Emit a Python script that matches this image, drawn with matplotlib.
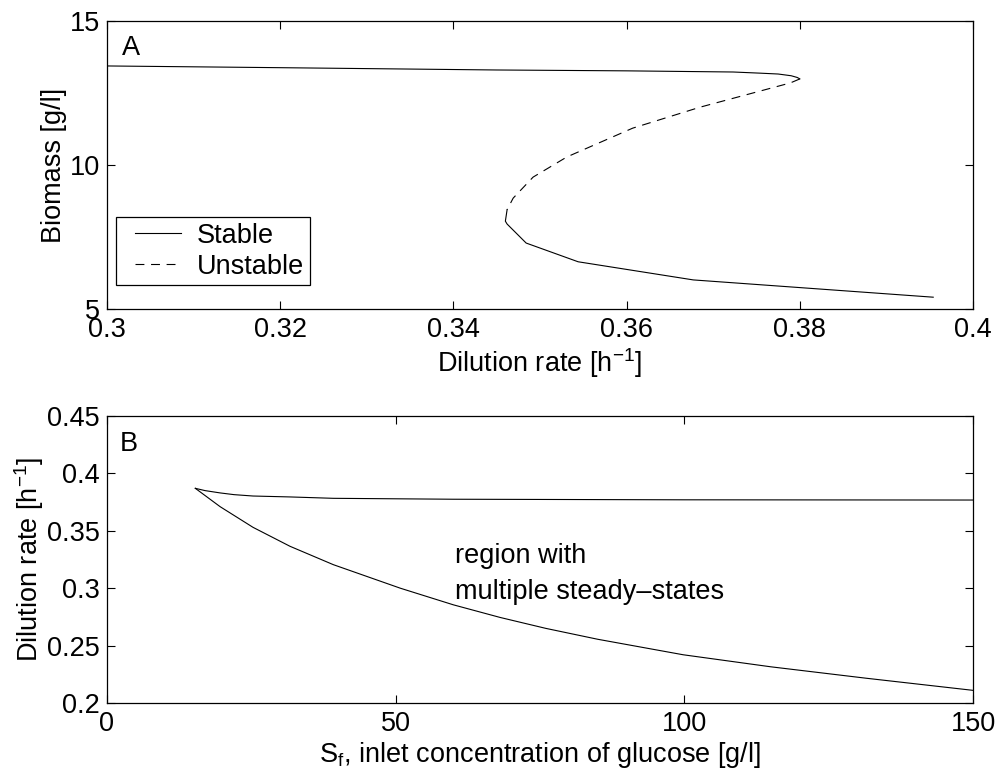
import matplotlib
matplotlib.use("Agg")
import matplotlib.pyplot as plt
from matplotlib.lines import Line2D
from matplotlib.legend_handler import HandlerLine2D
from matplotlib.ticker import FuncFormatter

FS = 19.5
plt.rcParams["font.family"] = ["Liberation Sans", "DejaVu Sans"]
plt.rcParams["mathtext.fontset"] = "custom"
plt.rcParams["mathtext.rm"] = "Liberation Sans"
plt.rcParams["mathtext.it"] = "Liberation Sans:italic"
plt.rcParams["font.size"] = FS

# panel A: biomass vs dilution rate
stable_hi_D = [0.300, 0.320, 0.345, 0.360, 0.3723, 0.3754, 0.3775, 0.3790, 0.3797, 0.3800]
stable_hi_X = [13.44, 13.38, 13.30, 13.27, 13.23, 13.19, 13.16, 13.10, 13.04, 12.99]
unstable_D = [0.3800, 0.3789, 0.3685, 0.3607, 0.3531, 0.3492, 0.3469, 0.3462]
unstable_X = [12.99, 12.85, 12.01, 11.28, 10.28, 9.58, 8.85, 8.45]
stable_lo_D = [0.3462, 0.3460, 0.3462, 0.3484, 0.3544, 0.3677, 0.3954]
stable_lo_X = [8.45, 8.05, 7.95, 7.29, 6.64, 6.01, 5.41]

# panel B: boundaries of the multiplicity region
upper_Sf = [15.3, 17.0, 19.6, 22.0, 25.3, 31.7, 39.2, 60.0, 100.0, 150.0]
upper_D = [0.387, 0.385, 0.383, 0.3815, 0.3803, 0.3795, 0.3783, 0.3775, 0.3770, 0.3768]
lower_Sf = [15.3, 19.6, 25.3, 31.7, 39.2, 50.8, 60.0, 68.1, 76.0, 85.0, 99.8, 115.0,
            131.6, 150.0]
lower_D = [0.387, 0.371, 0.353, 0.3365, 0.3205, 0.300, 0.2855, 0.2745, 0.265, 0.2555,
           0.242, 0.2315, 0.2215, 0.211]

fmt = FuncFormatter(lambda v, p: f"{v:g}")

fig = plt.figure(figsize=(9.98, 7.76), dpi=100)
axA = fig.add_axes([0.1072, 0.6018, 0.8678, 0.3711])
axB = fig.add_axes([0.1072, 0.0941, 0.8678, 0.3698])

for ax in (axA, axB):
    ax.tick_params(direction="in", length=6, width=0.8, top=True, right=True,
                   labelsize=FS, pad=5)
    ax.tick_params(axis="x", pad=6)
    for s in ax.spines.values():
        s.set_linewidth(0.9)
    ax.xaxis.set_major_formatter(fmt)
    ax.yaxis.set_major_formatter(fmt)

lw = 0.8
axA.plot(stable_hi_D, stable_hi_X, color="black", lw=lw, label="Stable")
axA.plot(unstable_D, unstable_X, color="black", lw=lw, dashes=(8, 6), label="Unstable")
axA.plot(stable_lo_D, stable_lo_X, color="black", lw=lw)
axA.set_xlim(0.3, 0.4)
axA.set_ylim(5, 15)
axA.set_xticks([0.3, 0.32, 0.34, 0.36, 0.38, 0.4])
axA.set_yticks([5, 10, 15])
axA.set_xlabel(r"Dilution rate [h$^{-1}$]", labelpad=2)
axA.set_ylabel("Biomass [g/l]", labelpad=2)
axA.text(0.3017, 13.82, "A", fontsize=FS, va="baseline")
leg = axA.legend(loc="lower left", bbox_to_anchor=(0.0104, 0.083), borderaxespad=0,
                 fancybox=False, edgecolor="black", framealpha=1, fontsize=FS,
                 handlelength=2.2, handletextpad=0.6, borderpad=0.2, labelspacing=0.18,
                 handler_map={Line2D: HandlerLine2D(xpad=0.5)})
leg.get_frame().set_linewidth(0.9)

axB.plot(upper_Sf, upper_D, color="black", lw=lw)
axB.plot(lower_Sf, lower_D, color="black", lw=lw)
axB.set_xlim(0, 150)
axB.set_ylim(0.2, 0.45)
axB.set_xticks([0, 50, 100, 150])
axB.set_yticks([0.2, 0.25, 0.3, 0.35, 0.4, 0.45])
axB.set_xlabel(r"S$_{\mathrm{f}}$, inlet concentration of glucose [g/l]", labelpad=2)
axB.set_ylabel(r"Dilution rate [h$^{-1}$]", labelpad=1)
axB.text(2.25, 0.4198, "B", fontsize=FS, va="baseline")
axB.text(60.3, 0.322, "region with", fontsize=FS, va="baseline")
axB.text(60.3, 0.2906, "multiple steady\u2013states", fontsize=FS, va="baseline")

fig.savefig("out.png", dpi=100)
